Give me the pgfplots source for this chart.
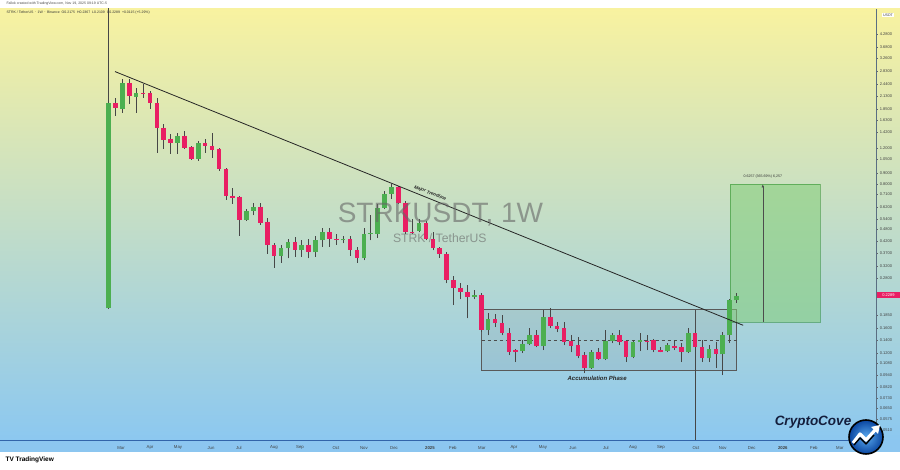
\documentclass[border=0pt]{standalone}
\usepackage{fontspec}
\setmainfont{Liberation Sans}
\usepackage{pgfplots}
\usepackage{pgfplotstable}
\pgfplotsset{compat=1.18}
\usetikzlibrary{arrows.meta}

\definecolor{bull}{RGB}{76,175,80}
\definecolor{bear}{RGB}{233,30,99}
\definecolor{wickc}{RGB}{70,70,70}
\definecolor{bgtop}{RGB}{248,242,160}
\definecolor{bgmid}{RGB}{200,228,200}
\definecolor{bgbot}{RGB}{140,200,240}
\definecolor{band}{RGB}{140,198,240}
\definecolor{navy}{RGB}{20,30,60}
\definecolor{target}{RGB}{130,205,120}

% weekly candles STRK/USDT, x = week index (0 = 19 Feb 2024)
\pgfplotstableread{
x o h l c
0 0.199 6.5 0.197 1.989
1 1.976 2.089 1.714 1.860
2 1.854 2.591 1.773 2.478
3 2.478 2.591 1.960 2.143
4 2.119 2.343 1.773 2.216
5 2.216 2.450 2.096 2.199
6 2.216 2.266 1.854 1.982
7 1.982 2.096 1.134 1.500
8 1.500 1.568 1.186 1.312
9 1.326 1.402 1.122 1.268
10 1.268 1.418 1.122 1.371
11 1.371 1.450 1.186 1.200
12 1.213 1.227 1.049 1.061
13 1.061 1.297 1.037 1.268
14 1.268 1.326 1.134 1.227
15 1.227 1.418 1.073 1.173
16 1.186 1.200 0.928 0.949
17 0.949 0.960 0.671 0.702
18 0.702 0.768 0.642 0.687
19 0.694 0.702 0.449 0.537
20 0.537 0.607 0.531 0.594
21 0.594 0.649 0.562 0.621
22 0.621 0.649 0.508 0.519
23 0.525 0.549 0.367 0.402
24 0.402 0.411 0.314 0.359
25 0.359 0.402 0.332 0.389
26 0.389 0.434 0.348 0.420
27 0.420 0.444 0.355 0.380
28 0.380 0.425 0.355 0.406
29 0.406 0.434 0.348 0.372
30 0.372 0.449 0.355 0.425
31 0.425 0.486 0.397 0.465
32 0.465 0.486 0.397 0.434
33 0.434 0.459 0.406 0.425
34 0.425 0.449 0.411 0.434
35 0.434 0.449 0.359 0.380
36 0.380 0.393 0.332 0.348
37 0.348 0.486 0.340 0.459
38 0.459 0.562 0.425 0.462
39 0.459 0.642 0.439 0.614
40 0.614 0.742 0.607 0.718
41 0.718 0.803 0.679 0.776
42 0.776 0.785 0.642 0.649
43 0.649 0.664 0.459 0.465
44 0.467 0.543 0.459 0.465
45 0.475 0.543 0.465 0.519
46 0.519 0.531 0.425 0.434
47 0.430 0.465 0.380 0.389
48 0.389 0.393 0.351 0.367
49 0.367 0.372 0.263 0.272
50 0.272 0.287 0.206 0.251
51 0.251 0.263 0.220 0.238
52 0.238 0.257 0.178 0.227
53 0.227 0.243 0.220 0.230
54 0.230 0.235 0.152 0.156
55 0.156 0.188 0.147 0.176
56 0.176 0.186 0.161 0.168
57 0.168 0.184 0.147 0.1505
58 0.1505 0.159 0.1177 0.1217
59 0.1245 0.1259 0.1089 0.1217
60 0.1231 0.139 0.1204 0.133
61 0.133 0.159 0.1316 0.147
62 0.147 0.156 0.1287 0.130
63 0.130 0.1945 0.1245 0.180
64 0.180 0.199 0.159 0.163
65 0.163 0.170 0.152 0.157
66 0.159 0.170 0.1316 0.136
67 0.1376 0.147 0.1217 0.130
68 0.1316 0.144 0.1138 0.1164
69 0.1177 0.1217 0.0963 0.1018
70 0.1018 0.1245 0.1007 0.1217
71 0.1217 0.1273 0.1113 0.1126
72 0.1126 0.156 0.1113 0.1376
73 0.1376 0.1505 0.1346 0.147
74 0.147 0.156 0.1316 0.136
75 0.1376 0.139 0.1089 0.1151
76 0.1151 0.139 0.1138 0.136
77 0.136 0.1505 0.1231 0.139
78 0.1384 0.147 0.1245 0.1376
79 0.139 0.1407 0.1217 0.1245
80 0.1245 0.1287 0.1217 0.1224
81 0.1231 0.1346 0.1217 0.1316
82 0.130 0.139 0.1245 0.128
83 0.1287 0.1346 0.1089 0.1217
84 0.1217 0.159 0.1204 0.1505
85 0.1505 0.156 0.03 0.1287
86 0.1287 0.139 0.1089 0.1138
87 0.1138 0.1316 0.1089 0.1259
88 0.1259 0.136 0.1018 0.119
89 0.119 0.152 0.0942 0.147
90 0.147 0.222 0.1346 0.2175
91 0.2175 0.2367 0.2109 0.2289
}\candles

\begin{document}
\begin{tikzpicture}
\begin{scope}[x=1pt,y=1pt]
\fill[white] (0,0) rectangle (900,470);
\shade[top color=bgtop, middle color=bgmid, bottom color=bgbot] (0,30) rectangle (900,461);
\fill[band] (0,18) rectangle (900,30);
\end{scope}

\begin{axis}[
  at={(0pt,30pt)}, anchor=south west,
  scale only axis, width=876pt, height=431pt,
  xmin=-15.72, xmax=111.2,
  ymode=log, ymin=0.04561, ymax=5.66,
  axis x line*=bottom, axis y line*=right,
  x axis line style={-, draw={rgb,255:red,50;green,100;blue,170}, line width=0.6pt},
  y axis line style={-, draw={rgb,255:red,90;green,110;blue,130}, line width=0.4pt},
  xtick={1.81,6.01,10.07,14.85,18.9,23.97,27.74,32.96,37.01,41.36,46.57,49.9,54.1,58.74,62.94,67.29,72.07,75.98,80.04,85.1,89.0,93.2,97.7,102.2,105.97},
  xticklabels={Mar,Apr,May,Jun,Jul,Aug,Sep,Oct,Nov,Dec,\textbf{2025},Feb,Mar,Apr,May,Jun,Jul,Aug,Sep,Oct,Nov,Dec,\textbf{2026},Feb,Mar},
  xtick style={draw=none},
  xticklabel style={font=\fontsize{4.3}{5}\selectfont, text=black!75, anchor=center, yshift=-6pt},
  ytick={4.28,3.68,3.26,2.83,2.44,2.13,1.85,1.63,1.42,1.20,1.05,0.90,0.80,0.71,0.62,0.54,0.48,0.42,0.37,0.32,0.28,0.185,0.16,0.14,0.12,0.108,0.094,0.082,0.073,0.065,0.0575,0.051},
  yticklabels={4.2800,3.6800,3.2600,2.8300,2.4400,2.1300,1.8500,1.6300,1.4200,1.2000,1.0500,0.9000,0.8000,0.7100,0.6200,0.5400,0.4800,0.4200,0.3700,0.3200,0.2800,0.1850,0.1600,0.1400,0.1200,0.1080,0.0940,0.0820,0.0730,0.0650,0.0575,0.0510},
  yticklabel pos=right,
  ytick style={draw=black!60, line width=0.3pt},
  tick align=outside, major tick length=1.8pt,
  yticklabel style={font=\fontsize{4}{5}\selectfont, text=black!75, anchor=west, xshift=-1.5pt},
]
% accumulation box and its dashed middle
\addplot[draw=black!65, fill=gray, fill opacity=0.13, line width=0.5pt] coordinates {(54.06,0.196) (91,0.196) (91,0.0996) (54.06,0.0996)} -- cycle;
\addplot[black!70, dashed, line width=0.45pt] coordinates {(54.06,0.1385) (91,0.1385)};
% target box
\addplot[draw=green!45!black, draw opacity=0.4, fill=target, fill opacity=0.55, line width=0.4pt] coordinates {(90.03,0.1711) (103.07,0.1711) (103.07,0.7968) (90.03,0.7968)} -- cycle;
\addplot[black!70, line width=0.45pt, -{Latex[length=3pt,width=2.5pt]}] coordinates {(94.8,0.1711) (94.8,0.7968)};
% vertical marker line
\addplot[black!70, line width=0.45pt] coordinates {(85,0.196) (85,0.03)};

\pgfplotstablegetrowsof{\candles}
\pgfmathtruncatemacro{\lastrow}{\pgfplotsretval-1}
\pgfplotsforeachungrouped \i in {0,...,\lastrow}{
  \pgfplotstablegetelem{\i}{x}\of\candles \let\cx\pgfplotsretval
  \pgfplotstablegetelem{\i}{o}\of\candles \let\co\pgfplotsretval
  \pgfplotstablegetelem{\i}{h}\of\candles \let\ch\pgfplotsretval
  \pgfplotstablegetelem{\i}{l}\of\candles \let\cl\pgfplotsretval
  \pgfplotstablegetelem{\i}{c}\of\candles \let\cc\pgfplotsretval
  \pgfmathtruncatemacro{\up}{\cc>=\co}
  \ifnum\up=1 \def\ccol{bull}\else\def\ccol{bear}\fi
  \edef\doit{
    \noexpand\addplot[wickc, line width=0.6pt] coordinates {(\cx,\cl) (\cx,\ch)};
    \noexpand\addplot[\ccol, line width=4.6pt] coordinates {(\cx,\co) (\cx,\cc)};
  }\doit
}

% major trendline
\addplot[black!85, line width=0.8pt] coordinates {(0.94,2.811) (91.96,0.1645)};
\node[rotate=-22, font=\bfseries\itshape\fontsize{4.6}{5}\selectfont, text=black!85] at (axis cs:46.6,0.72) {Major Trendline};
\node[font=\bfseries\itshape\fontsize{6}{7}\selectfont, text=black!85] at (axis cs:70.8,0.0911) {Accumulation Phase};
\node[font=\fontsize{3.6}{4}\selectfont, text=black!80] at (axis cs:94.8,0.87) {0.6257 (365.69\%) 6,257};
% watermark
\node[font=\fontsize{28}{30}\selectfont, text=black!60, opacity=0.6] at (axis cs:48.1,0.568) {STRKUSDT, 1W};
\node[font=\fontsize{12.2}{13}\selectfont, text=black!60, opacity=0.6] at (axis cs:48.0,0.434) {STRK / TetherUS};
\end{axis}

\begin{scope}[x=1pt,y=1pt]
% current price label
\fill[bear] (877,171.6) rectangle (900,177.6);
\node[font=\fontsize{4}{5}\selectfont, text=white] at (888.5,174.6) {0.2289};
\node[font=\fontsize{3.6}{4}\selectfont, text=black!75, fill=white, inner sep=0.8pt] at (888,455) {USDT};

% header
\node[anchor=west, font=\fontsize{3.5}{4}\selectfont, text=black!70] at (3,466) {Fallok created with TradingView.com, Nov 19, 2025 09:19 UTC-5};
\node[anchor=west, font=\fontsize{3.5}{4}\selectfont, text=black!80] at (3,457) {STRK / TetherUS $\cdot$ 1W $\cdot$ Binance \ O0.2175 \ H0.2367 \ L0.2109 \ C0.2289 \ +0.0115 (+5.29\%)};

% CryptoCove logo
\node[font=\bfseries\itshape\fontsize{13.5}{14}\selectfont, text=navy] at (813,48) {CryptoCove};
\shade[inner color={rgb,255:red,90;green,170;blue,240}, outer color={rgb,255:red,10;green,70;blue,160}] (866,33) circle (17);
\draw[black, line width=1.6pt] (866,33) circle (17);
\draw[white, line width=3.2pt, line join=round] (853,27) -- (860,36) -- (866,30) -- (876,41);
\draw[black, line width=1.4pt, line join=round] (854,25) -- (860,32) -- (866,26) -- (874,35);
\fill[white] (880,45) -- (871,43) -- (878,36) -- cycle;

% TradingView footer
\node[anchor=west, font=\bfseries\fontsize{6.5}{7}\selectfont] at (2,10) {TV\ TradingView};

\pgfresetboundingbox
\useasboundingbox (0,0) rectangle (900,470);
\end{scope}
\end{tikzpicture}
\end{document}
